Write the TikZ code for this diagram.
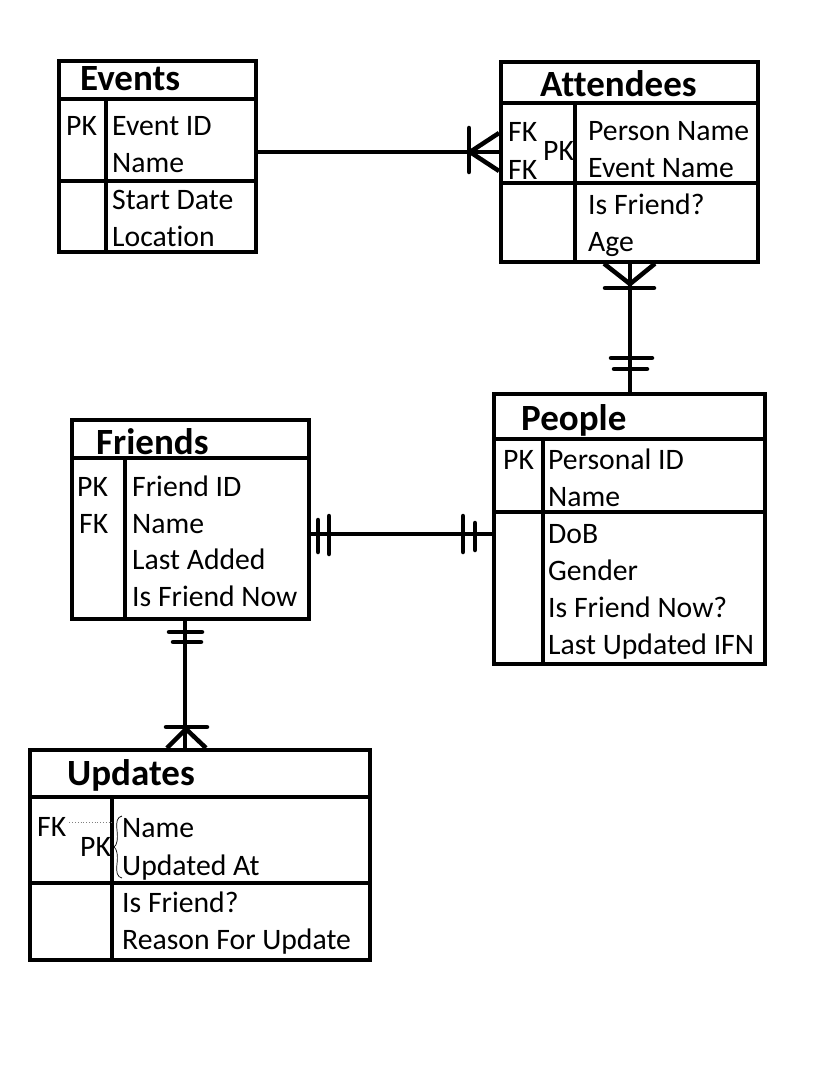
\documentclass[tikz,border=0pt]{standalone}
\usepackage{fontspec}
\setmainfont{Carlito}[Ligatures={NoCommon}]
\begin{document}
\begin{tikzpicture}[x=1pt,y=-1pt,
  tbl/.style={draw, line width=3.6pt, rectangle, inner sep=0pt, anchor=north west},
  inner/.style={line width=3.2pt},
  conn/.style={line width=4.5pt},
  tick/.style={line width=4.5pt, line cap=round},
  txt/.style={anchor=base west, inner sep=0pt, font=\fontsize{29.7}{36}\selectfont},
  ttl/.style={anchor=base west, inner sep=0pt, font=\fontsize{37}{44}\selectfont\bfseries}]
\useasboundingbox[fill=white] (0,0) rectangle (826,1070);

% ---------- Events ----------
\node[tbl, minimum width=197pt, minimum height=191pt] (events) at (57,59) {};
\draw[inner] (events.west |- 0,99) -- (events.east |- 0,99);
\draw[inner] (events.west |- 0,181) -- (events.east |- 0,181);
\draw[inner] (events.north -| 106,0) ++(0,40) coordinate (evd) -- (evd |- events.south);
\node[ttl] (ev-t) at (80,91) {Events};
\node[txt] (ev-pk) at (66,135.5) {PK};
\node[txt] (ev-a1) at (112,135.5) {Event ID};
\node[txt] (ev-a2) at (112,172.5) {Name};
\node[txt] (ev-a3) at (112,209.5) {Start Date};
\node[txt] (ev-a4) at (112,246.5) {Location};

% ---------- Attendees ----------
\node[tbl, minimum width=257pt, minimum height=200pt] (att) at (499,60) {};
\draw[inner] (att.west |- 0,103) -- (att.east |- 0,103);
\draw[inner] (att.west |- 0,183) -- (att.east |- 0,183);
\coordinate (atd) at (575,103);
\draw[inner] (atd) -- (atd |- att.south);
\node[ttl] (at-t) at (540,97) {Attendees};
\node[txt] (at-fk1) at (508,141.5) {FK};
\node[txt] (at-fk2) at (508,179.5) {FK};
\node[txt] (at-pk) at (543,160.5) {PK};
\node[txt] (at-a1) at (588,140.5) {Person Name};
\node[txt] (at-a2) at (588,177.5) {Event Name};
\node[txt] (at-a3) at (588,214.5) {Is Friend?};
\node[txt] (at-a4) at (588,251) {Age};

% ---------- People ----------
\node[tbl, minimum width=271pt, minimum height=270pt] (ppl) at (492,392) {};
\draw[inner] (ppl.west |- 0,439) -- (ppl.east |- 0,439);
\draw[inner] (ppl.west |- 0,512) -- (ppl.east |- 0,512);
\coordinate (ppd) at (543,439);
\draw[inner] (ppd) -- (ppd |- ppl.south);
\node[ttl] (pp-t) at (521,430) {People};
\node[txt] (pp-pk) at (503,469.5) {PK};
\node[txt] (pp-a1) at (548,469.5) {Personal ID};
\node[txt] (pp-a2) at (548,506.5) {Name};
\node[txt] (pp-a3) at (548,543.5) {DoB};
\node[txt] (pp-a4) at (548,580.5) {Gender};
\node[txt] (pp-a5) at (548,617.5) {Is Friend Now?};
\node[txt] (pp-a6) at (548,654.5) {Last Updated IFN};

% ---------- Friends ----------
\node[tbl, minimum width=237pt, minimum height=199pt] (fr) at (70,418) {};
\draw[inner] (fr.west |- 0,458) -- (fr.east |- 0,458);
\coordinate (frd) at (125,458);
\draw[inner] (frd) -- (frd |- fr.south);
\node[ttl] (fr-t) at (96,454) {Friends};
\node[txt] (fr-pk) at (77,496.5) {PK};
\node[txt] (fr-fk) at (79,533) {FK};
\node[txt] (fr-a1) at (132,496.5) {Friend ID};
\node[txt] (fr-a2) at (132,533) {Name};
\node[txt] (fr-a3) at (132,569.5) {Last Added};
\node[txt] (fr-a4) at (132,606.5) {Is Friend Now};

% ---------- Updates ----------
\node[tbl, minimum width=340pt, minimum height=210pt] (upd) at (28,748) {};
\draw[inner] (upd.west |- 0,797) -- (upd.east |- 0,797);
\draw[inner] (upd.west |- 0,883) -- (upd.east |- 0,883);
\coordinate (upd-d) at (112,797);
\draw[inner] (upd-d) -- (upd-d |- upd.south);
\node[ttl] (up-t) at (67,785) {Updates};
\node[txt] (up-fk) at (37,836.5) {FK};
\node[txt] (up-pk) at (80,856.5) {PK};
\node[txt] (up-a1) at (122,837.5) {Name};
\node[txt] (up-a2) at (122,875) {Updated At};
\node[txt] (up-a3) at (122,912.5) {Is Friend?};
\node[txt] (up-a4) at (122,949.5) {Reason For Update};
\draw[gray, line width=0.8pt, dotted] ([xshift=3pt]up-fk.east |- 0,822) -- (upd-d |- 0,822);
\draw[black, line width=0.7pt] (122,816) .. controls (117,817) and (116,822) .. (117,830)
  .. controls (118,840) and (117,845) .. (114,847)
  .. controls (117,849) and (118,855) .. (117,864)
  .. controls (116,872) and (117,877) .. (122,878);

% ---------- Connectors ----------
% Events -- Attendees (one to many)
\draw[conn] (events.east |- 0,152) coordinate (c1a) -- (att.west |- 0,152) coordinate (c1b);
\draw[conn] (470,152) -- (att.west |- 0,133);
\draw[conn] (470,152) -- (att.west |- 0,171);
\draw[tick] (469,128) -- (469,172);

% Attendees -- People (many to one)
\draw[conn] (att.south -| 630,0) -- (ppl.north -| 630,0);
\draw[conn] (630,284) -- (att.south -| 604,0);
\draw[conn] (630,284) -- (att.south -| 655,0);
\draw[tick] (605,288) -- (654,288);
\draw[tick] (611,358) -- (652,358);
\draw[tick] (614,369) -- (647,369);

% Friends -- People (one to one)
\draw[conn] (fr.east |- 0,534) -- (ppl.west |- 0,534);
\draw[tick] (318,520) -- (318,552);
\draw[tick] (329,516) -- (329,554);
\draw[tick] (463,516) -- (463,552);
\draw[tick] (475,523) -- (475,550);

% Friends -- Updates (one to many)
\draw[conn] (fr.south -| 185,0) -- (upd.north -| 185,0);
\draw[tick] (169,632) -- (202,632);
\draw[tick] (173,642) -- (201,642);
\draw[tick] (166,727) -- (207,727);
\draw[conn] (186,729) -- (upd.north -| 167,0);
\draw[conn] (186,729) -- (upd.north -| 206,0);
\end{tikzpicture}
\end{document}
